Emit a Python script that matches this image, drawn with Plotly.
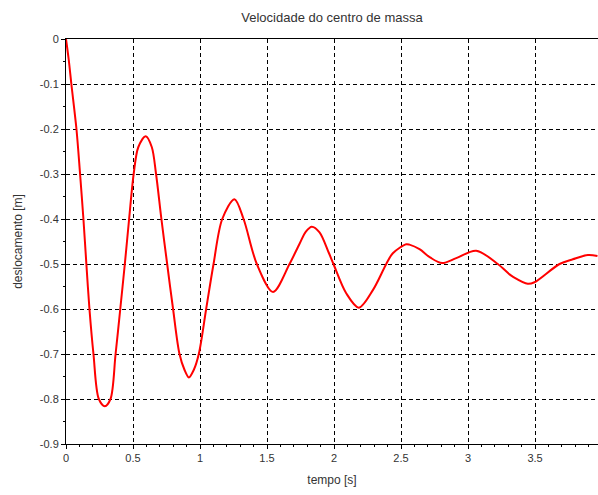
import plotly.graph_objects as go

title_text = "Velocidade do centro de massa"
x_title = "tempo [s]"
y_title = "deslocamento [m]"

tempo = [0.0, 0.02, 0.040, 0.078, 0.105, 0.130, 0.152, 0.175, 0.205, 0.245,
         0.290, 0.332, 0.370, 0.405, 0.439, 0.471, 0.505, 0.540, 0.595, 0.640,
         0.672, 0.712, 0.755, 0.799, 0.847, 0.884, 0.917, 0.954, 0.991, 1.046,
         1.101, 1.166, 1.257, 1.325, 1.424, 1.545, 1.668, 1.743, 1.790,
         1.834, 1.892, 1.961, 1.996, 2.091, 2.185, 2.290, 2.390, 2.439, 2.539,
         2.563, 2.638, 2.720, 2.807, 2.912, 3.061, 3.222, 3.310, 3.334, 3.446,
         3.496, 3.683, 3.782, 3.894, 3.966]
deslocamento = [0.0, -0.045, -0.1, -0.2, -0.3, -0.4, -0.5, -0.6, -0.7, -0.8,
                -0.816, -0.8, -0.7, -0.6, -0.5, -0.4, -0.3, -0.24, -0.216, -0.24,
                -0.3, -0.4, -0.5, -0.6, -0.7, -0.735, -0.752, -0.735, -0.7, -0.6,
                -0.5, -0.4, -0.356, -0.4, -0.5, -0.562, -0.5, -0.455, -0.428,
                -0.417, -0.4295, -0.475, -0.5, -0.565, -0.597, -0.558, -0.5, -0.476, -0.456,
                -0.457, -0.467, -0.486, -0.498, -0.487, -0.4705, -0.5, -0.523, -0.528, -0.544,
                -0.5405, -0.5, -0.4895, -0.480, -0.482]

x_ticks = [0, 0.5, 1, 1.5, 2, 2.5, 3, 3.5]
x_ticklabels = ["0", "0.5", "1", "1.5", "2", "2.5", "3", "3.5"]
y_ticks = [0, -0.1, -0.2, -0.3, -0.4, -0.5, -0.6, -0.7, -0.8, -0.9]
y_ticklabels = ["0", "-0.1", "-0.2", "-0.3", "-0.4", "-0.5", "-0.6", "-0.7", "-0.8", "-0.9"]

fig = go.Figure()
fig.add_trace(go.Scatter(x=tempo, y=deslocamento, mode="lines",
                         line=dict(color="#ff0000", width=2, shape="spline", smoothing=0.9),
                         showlegend=False, hoverinfo="skip"))

font = "Liberation Sans, Arial, sans-serif"
fig.update_layout(
    width=598, height=495,
    margin=dict(l=66, r=0, t=39, b=51, autoexpand=False),
    paper_bgcolor="white", plot_bgcolor="white",
    font=dict(family=font, size=11, color="#333333"),
    title=dict(text=title_text, xref="paper", x=0.5, xanchor="center",
               yref="container", y=0.965, yanchor="middle",
               font=dict(size=13, color="#333333")),
    xaxis=dict(range=[0, 3.97], tickvals=x_ticks, ticktext=x_ticklabels,
               automargin=False,
               showline=True, linecolor="black", linewidth=1, mirror=True,
               ticks="outside", ticklen=4, tickcolor="black",
               minor=dict(ticks="outside", ticklen=2, dtick=0.1, tick0=0, tickcolor="black", showgrid=False),
               showgrid=True, gridcolor="black", gridwidth=1, griddash="4px,3px",
               zeroline=False,
               title=dict(text=x_title, font=dict(size=12, color="#333333"), standoff=12)),
    yaxis=dict(range=[-0.9, 0], tickvals=y_ticks, ticktext=y_ticklabels,
               automargin=False,
               showline=True, linecolor="black", linewidth=1, mirror=False,
               ticks="outside", ticklen=4, tickcolor="black",
               minor=dict(ticks="outside", ticklen=2, dtick=0.05, tick0=0, tickcolor="black", showgrid=False),
               showgrid=True, gridcolor="black", gridwidth=1, griddash="4px,3px",
               zeroline=False,
               title=dict(text=y_title, font=dict(size=12, color="#333333"), standoff=14)),
)

fig.write_html("out.html", config={"displayModeBar": False},
               post_script="document.body.style.margin='0px';document.body.style.overflow='hidden';")
